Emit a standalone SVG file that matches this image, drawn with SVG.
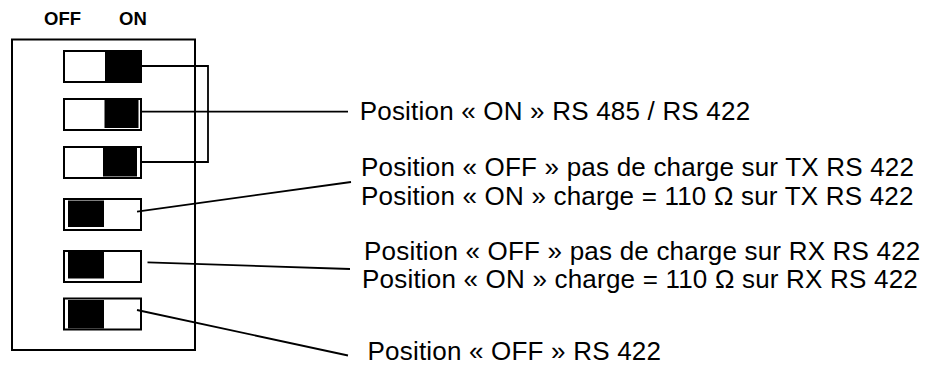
<svg xmlns="http://www.w3.org/2000/svg" width="927" height="365" viewBox="0 0 927 365">
<style>
.hdr{font-family:"Liberation Sans",Arial,sans-serif;font-weight:bold;font-size:18.5px;fill:#000}
.lbl{font-family:"Liberation Sans",Arial,sans-serif;font-size:26px;letter-spacing:0.2px;fill:#000}
.sw{fill:#fff;stroke:#000;stroke-width:2}
.knob{fill:#000}
.ln{fill:none;stroke:#000;stroke-width:1.8}
</style>
<rect width="927" height="365" fill="#fff"/>
<g id="header">
<text class="hdr" x="44" y="25">OFF</text>
<text class="hdr" x="119" y="25">ON</text>
</g>
<g id="housing">
<rect x="12" y="39.5" width="183" height="310.5" fill="#fff" stroke="#000" stroke-width="2"/>
</g>
<g id="switch1"><rect class="sw" x="64" y="51" width="77" height="31"/><rect class="knob" x="105" y="52" width="35" height="29"/></g>
<g id="switch2"><rect class="sw" x="64" y="99" width="77" height="31"/><rect class="knob" x="104.5" y="100" width="34" height="28"/></g>
<g id="switch3"><rect class="sw" x="64" y="147" width="77" height="31"/><rect class="knob" x="103" y="148" width="34" height="28.5"/></g>
<g id="switch4"><rect class="sw" x="64" y="199" width="77" height="31"/><rect class="knob" x="68" y="200.5" width="36" height="26.5"/></g>
<g id="switch5"><rect class="sw" x="64" y="251" width="77" height="31"/><rect class="knob" x="68" y="252" width="36" height="26.5"/></g>
<g id="switch6"><rect class="sw" x="64" y="298.5" width="77" height="31"/><rect class="knob" x="68" y="300" width="36" height="28.5"/></g>
<g id="connectors">
<polyline class="ln" points="141,66 208,66 208,162 141,162"/>
<line class="ln" x1="141" y1="111.7" x2="348" y2="111.7"/>
<line class="ln" x1="137" y1="211.7" x2="351" y2="182"/>
<line class="ln" x1="147.5" y1="262.3" x2="350" y2="269"/>
<line class="ln" x1="137" y1="310" x2="348" y2="355.5"/>
</g>
<g id="label-rs485">
<text class="lbl" x="359.7" y="120">Position « ON » RS 485 / RS 422</text>
</g>
<g id="label-tx">
<text class="lbl" x="361" y="176">Position « OFF » pas de charge sur TX RS 422</text>
<text class="lbl" x="361" y="205">Position « ON » charge = 110 Ω sur TX RS 422</text>
</g>
<g id="label-rx">
<text class="lbl" x="364" y="259.5">Position « OFF » pas de charge sur RX RS 422</text>
<text class="lbl" x="362" y="288">Position « ON » charge = 110 Ω sur RX RS 422</text>
</g>
<g id="label-rs422">
<text class="lbl" x="367.5" y="359.5">Position « OFF » RS 422</text>
</g>
</svg>
